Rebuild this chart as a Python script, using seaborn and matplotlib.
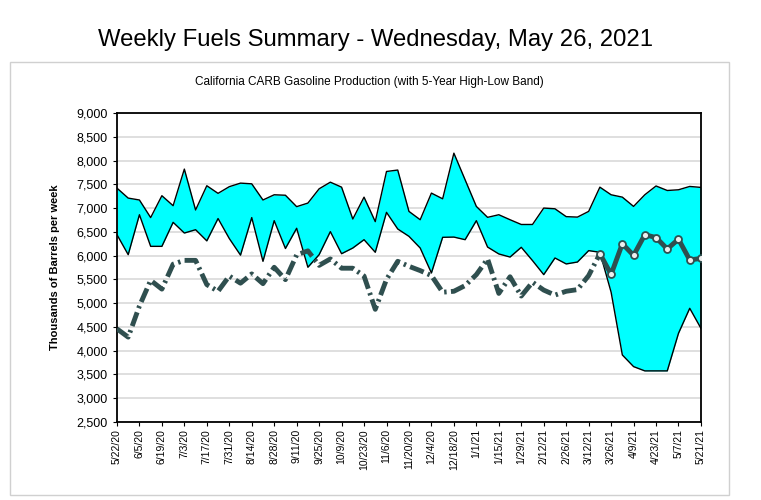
import numpy as np
import pandas as pd
import matplotlib
matplotlib.use("Agg")
import matplotlib.pyplot as plt
import seaborn as sns
from matplotlib.patches import Rectangle
from matplotlib.ticker import FuncFormatter

# 5-year band and current production, thousands of barrels per week
high_5yr = [7420, 7210, 7170, 6800, 7260, 7050, 7820, 6960, 7470, 7310, 7450, 7525,
            7510, 7170, 7280, 7270, 7030, 7105, 7405, 7545, 7440, 6770,
            7230, 6715, 7770, 7800, 6930, 6755, 7315, 7195, 8155, 7595, 7035,
            6805, 6860, 6755, 6655, 6655, 7000, 6985, 6820, 6810, 6930, 7440,
            7280, 7230, 7035, 7280, 7465, 7370, 7385, 7455, 7435]
low_5yr = [6440, 6020, 6860, 6195, 6195, 6700, 6475, 6545, 6310, 6780, 6360, 6010,
           6800, 5880, 6735, 6150, 6575, 5755, 6020, 6505, 6040, 6160,
           6335, 6070, 6910, 6560, 6405, 6160, 5635, 6385, 6390, 6335, 6735,
           6180, 6035, 5970, 6175, 5895, 5600, 5950, 5825, 5865, 6105, 6070,
           5230, 3910, 3665, 3575, 3575, 3575, 4366, 4892, 4470]
production = [4460, 4285, 4940, 5480, 5295, 5820, 5900, 5900, 5390, 5250, 5570, 5420,
              5615, 5410, 5755, 5495, 6015, 6100, 5795, 5930, 5735, 5735,
              5570, 4870, 5500, 5880, 5775, 5685, 5580, 5230, 5250, 5370, 5600,
              5930, 5205, 5555, 5150, 5440, 5275, 5170, 5250, 5285, 5580, 6040,
              5605, 6250, 6005, 6440, 6380, 6140, 6345, 5910, 5940]
tick_labels = ["5/22/20", "6/5/20", "6/19/20", "7/3/20", "7/17/20", "7/31/20", "8/14/20",
               "8/28/20", "9/11/20", "9/25/20", "10/9/20", "10/23/20", "11/6/20",
               "11/20/20", "12/4/20", "12/18/20", "1/1/21", "1/15/21", "1/29/21",
               "2/12/21", "2/26/21", "3/12/21", "3/26/21", "4/9/21", "4/23/21",
               "5/7/21", "5/21/21"]

df = pd.DataFrame({"week": np.arange(len(production)), "high": high_5yr,
                   "low": low_5yr, "prod": production})
recent = 43  # weeks from here on drawn with open markers

plt.rcParams["font.family"] = ["Liberation Sans", "DejaVu Sans"]
fig = plt.figure(figsize=(7.61, 5), dpi=100)
fig.patches.append(Rectangle((0.0131, 0.01), 0.945, 0.866, transform=fig.transFigure,
                             fill=False, edgecolor="#d0d0d0", linewidth=1))
ax = fig.add_axes([0.1537, 0.156, 0.7674, 0.618])

ax.fill_between(df["week"], df["low"], df["high"], color="#00FFFF", linewidth=0, zorder=2)
sns.lineplot(data=df, x="week", y="high", color="black", linewidth=1, ax=ax, zorder=3)
sns.lineplot(data=df, x="week", y="low", color="black", linewidth=1, ax=ax, zorder=3)

old = df[df["week"] <= recent]
new = df[df["week"] >= recent]
sns.lineplot(data=old, x="week", y="prod", color="#2F4F4F", linewidth=3.5, ax=ax, zorder=4,
             dashes=False)
ax.lines[-1].set_dashes([3, 0.9, 0.5, 0.9])
ax.lines[-1].set_dash_capstyle("butt")
sns.lineplot(data=new, x="week", y="prod", color="#2F4F4F", linewidth=3.5, ax=ax, zorder=4,
             marker="o", markersize=5, markerfacecolor="#eeeeee",
             markeredgecolor="#2F4F4F", markeredgewidth=1.3)

ax.set_xlim(0, len(production) - 1)
ax.set_ylim(2500, 9000)
ax.set_yticks(np.arange(2500, 9001, 500))
ax.yaxis.set_major_formatter(FuncFormatter(lambda v, p: f"{int(v):,}"))
ax.set_xticks(np.arange(0, len(production), 2))
ax.set_xticklabels(tick_labels, rotation=90, fontsize=7.5)
ax.tick_params(axis="y", labelsize=9, length=3)
ax.tick_params(axis="x", length=3, pad=2)
ax.grid(axis="y", color="#d9d9d9", linewidth=1.2, zorder=0)
ax.set_axisbelow(True)
for s in ax.spines.values():
    s.set_color("black")
    s.set_linewidth(1.3)
ax.set_xlabel("")
ax.set_ylabel("Thousands of Barrels per week", fontsize=8, fontweight="bold", labelpad=12)

fig.text(0.493, 0.92, "Weekly Fuels Summary - Wednesday, May 26, 2021", ha="center",
         va="center", fontsize=17.2)
fig.text(0.486, 0.836, "California CARB Gasoline Production (with 5-Year High-Low Band)",
         ha="center", va="center", fontsize=8.5)

fig.savefig("out.png", dpi=100)
